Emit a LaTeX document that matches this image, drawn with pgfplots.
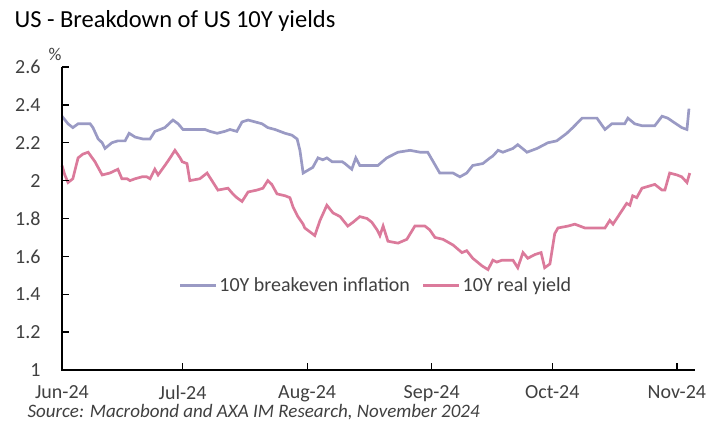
\documentclass[border=0pt]{standalone}
\usepackage{fontspec}
\setmainfont{Carlito}
\usepackage{pgfplots}
\pgfplotsset{compat=1.18}

\definecolor{bei}{HTML}{9A9AC4}
\definecolor{real}{HTML}{DB7A9B}
\definecolor{txt}{HTML}{404040}

\begin{document}
\begin{tikzpicture}
\begin{axis}[
    at={(0,0)}, anchor=south west,
    scale only axis,
    width=633pt, height=303pt,
    xmin=0, xmax=157.5,
    ymin=1, ymax=2.6,
    clip=false,
    axis line style={draw=none},
    xtick pos=bottom, ytick pos=left,
    tick align=inside,
    major tick length=7pt,
    tick style={draw=black, line width=1.3pt},
    xtick={0,30,61,92,122,153},
    xticklabels={Jun-24,Jul-24,Aug-24,Sep-24,Oct-24,Nov-24},
    ytick={1,1.2,1.4,1.6,1.8,2,2.2,2.4,2.6},
    yticklabels={1,1.2,1.4,1.6,1.8,2,2.2,2.4,2.6},
    ticklabel style={font=\fontsize{20}{24}\selectfont, text=txt},
    xticklabel style={yshift=-12pt},
    yticklabel style={xshift=-18pt},
    legend columns=2,
    legend style={at={(0.496,0.28)}, anchor=center, draw=none, fill=none,
        font=\fontsize{20}{24}\selectfont, text=txt,
        /tikz/every even column/.append style={column sep=10pt}},
    legend image code/.code={\draw[#1] (0pt,0pt) -- (36pt,0pt);},
]
\addplot[color=bei, line width=2.7pt] coordinates {
(0,2.34) (1.5,2.30) (2.7,2.28) (4,2.30) (7,2.30) (7.7,2.28) (9,2.22) (10,2.20)
(10.7,2.17) (12.4,2.20) (13.9,2.21) (15.7,2.21) (16.7,2.25) (18.2,2.23) (20.1,2.22)
(21.9,2.22) (23.1,2.26) (24.4,2.27) (25.6,2.28) (27.6,2.32) (28.9,2.30) (30.1,2.27)
(35.6,2.27) (36.8,2.26) (38.6,2.25) (40.5,2.26) (41.8,2.27) (43.5,2.26) (44.8,2.31)
(46.3,2.32) (49.8,2.30) (51.2,2.28) (53,2.27) (55.5,2.25) (57.2,2.24) (58.5,2.22)
(59.2,2.16) (60,2.04) (62.4,2.07) (63.7,2.12) (64.9,2.11) (65.9,2.12) (67.2,2.10)
(69.7,2.10) (70.4,2.09) (72.1,2.06) (73.1,2.12) (74.1,2.08) (78.6,2.08) (80.8,2.12)
(83.6,2.15) (86.6,2.16) (89.1,2.15) (91,2.15) (94,2.04) (97.3,2.04) (99,2.02)
(100.7,2.04) (102.2,2.08) (104.7,2.09) (106.5,2.12) (107.2,2.13) (108.5,2.16)
(109.7,2.15) (112.2,2.17) (113.4,2.19) (115.7,2.15) (118.2,2.17) (120.9,2.20)
(123.1,2.21) (125.6,2.25) (127.1,2.28) (129.4,2.33) (133.1,2.33) (135.1,2.27)
(136.8,2.30) (140,2.30) (140.8,2.33) (142.5,2.30) (144.3,2.29) (147.5,2.29)
(149.3,2.34) (150.7,2.33) (154.2,2.28) (155.5,2.27) (156,2.38)
};
\addlegendentry{10Y breakeven inflation}
\addplot[color=real, line width=2.7pt] coordinates {
(0,2.08) (0.7,2.03) (1.5,1.99) (2.7,2.01) (4,2.12) (5.2,2.14) (6.5,2.15) (8.2,2.10)
(10,2.03) (11.9,2.04) (13.9,2.06) (14.9,2.01) (16.2,2.01) (16.9,2.00) (18.2,2.01)
(19.9,2.02) (21.1,2.02) (21.9,2.01) (23.1,2.06) (23.9,2.03) (25.6,2.08) (26.9,2.12)
(28.1,2.16) (29.4,2.12) (29.9,2.10) (31.1,2.09) (31.8,2.00) (34.3,2.01) (36.1,2.04)
(37.3,2.00) (38.8,1.95) (41.3,1.96) (42.5,1.93) (43.5,1.91) (44.8,1.89) (46.3,1.94)
(48.5,1.95) (50,1.96) (51.2,2.00) (52.2,1.98) (53.5,1.93) (55.5,1.92) (56.7,1.91)
(57.5,1.86) (58.7,1.81) (60,1.77) (60.4,1.75) (62.9,1.71) (64.2,1.79) (65.9,1.87)
(67.4,1.83) (69.2,1.81) (71.1,1.76) (72.4,1.78) (74.1,1.81) (75.9,1.80) (77.1,1.78)
(78.4,1.74) (79.1,1.71) (79.9,1.76) (81.1,1.68) (83.6,1.67) (85.8,1.69) (87.8,1.76)
(90.3,1.76) (91.5,1.74) (92.8,1.70) (94.8,1.69) (97.3,1.66) (99.5,1.62) (100.7,1.63)
(102.2,1.59) (104.5,1.55) (106,1.53) (107.2,1.58) (108.2,1.57) (109.5,1.58)
(112.2,1.58) (113.4,1.54) (114.7,1.62) (115.9,1.59) (117.7,1.61) (119.2,1.62)
(120.1,1.54) (121.4,1.56) (122.6,1.72) (123.4,1.75) (125.9,1.76) (127.6,1.77)
(130.1,1.75) (135.1,1.75) (136.3,1.79) (137.1,1.77) (140.5,1.88) (141.3,1.87)
(142,1.92) (143,1.91) (144.3,1.96) (147.5,1.98) (149.3,1.95) (150,1.95) (151.2,2.04)
(153,2.03) (154.2,2.02) (155.5,1.99) (156.2,2.04)
};
\addlegendentry{10Y real yield}
% axis lines and tick marks drawn by hand
\draw[line width=1.5pt, black] (rel axis cs:0,1) -- (rel axis cs:0,0) -- (rel axis cs:1,0);
\pgfplotsinvokeforeach{30,61,92,122,153}{
  \draw[line width=1.3pt, black] (axis cs:#1,1) -- ++(0pt,7pt);
}
\pgfplotsinvokeforeach{1.2,1.4,1.6,1.8,2,2.2,2.4,2.6}{
  \draw[line width=1.3pt, black] (axis cs:0,#1) -- ++(7pt,0pt);
}
\end{axis}
\path[use as bounding box] (-62pt,-58pt) rectangle (648pt,370pt);
\node[anchor=west, text=black, font=\fontsize{24.5}{28}\selectfont] at (-51pt,349pt) {US - Breakdown of US 10Y yields};
\node[text=txt, font=\fontsize{18}{21}\selectfont] at (-7pt,316pt) {\%};
\node[anchor=west, text=txt, font=\fontsize{19}{22}\selectfont\itshape] at (-38pt,-42pt) {Source: Macrobond and AXA IM Research, November 2024};
\end{tikzpicture}
\end{document}
